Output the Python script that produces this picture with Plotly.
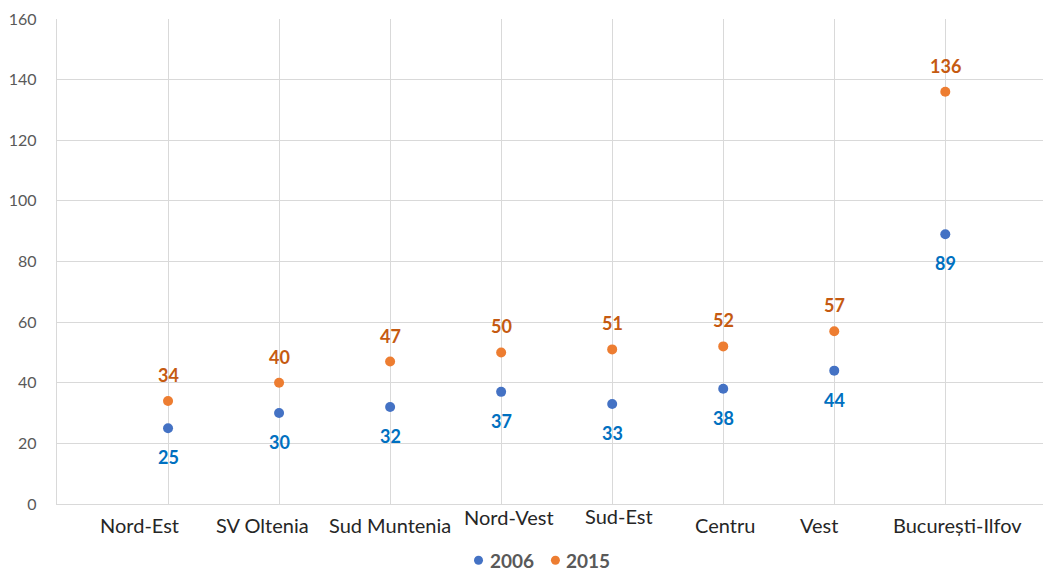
import plotly.graph_objects as go

# Regional values, 2006 vs 2015
regions = ["Nord-Est", "SV Oltenia", "Sud Muntenia", "Nord-Vest", "Sud-Est",
           "Centru", "Vest", "București-Ilfov"]
values_2006 = [25, 30, 32, 37, 33, 38, 44, 89]
values_2015 = [34, 40, 47, 50, 51, 52, 57, 136]
y_ticks = [0, 20, 40, 60, 80, 100, 120, 140, 160]
series_names = ["2006", "2015"]

# Placement of the region text boxes relative to each column (x in category units, y in px)
label_dx = [-0.26, -0.15, 0.0, 0.07, 0.06, 0.02, -0.14, 0.11]
label_dy = [0, 0, 0, 8.5, 9.5, 0, 0, 0]

C2006 = "#4472C4"
C2015 = "#ED7D31"
FONT = "Lato"

xs = list(range(1, len(regions) + 1))

fig = go.Figure()
fig.add_trace(go.Scatter(
    x=xs, y=values_2006, mode="markers", name=series_names[0],
    marker=dict(color=C2006, size=10), hoverinfo="skip", showlegend=False))
fig.add_trace(go.Scatter(
    x=xs, y=values_2015, mode="markers", name=series_names[1],
    marker=dict(color=C2015, size=10), hoverinfo="skip", showlegend=False))

annotations = []
for x, v in zip(xs, values_2006):
    annotations.append(dict(x=x, y=v, text=f"<b>{v}</b>", showarrow=False,
                            yshift=-29, font=dict(family=FONT, size=18, color="#0070C0")))
for x, v in zip(xs, values_2015):
    annotations.append(dict(x=x, y=v, text=f"<b>{v}</b>", showarrow=False,
                            yshift=26, font=dict(family=FONT, size=18, color="#C55A11")))
for x, name, dx, dy in zip(xs, regions, label_dx, label_dy):
    annotations.append(dict(x=x + dx, y=0, xref="x", yref="y", text=name,
                            showarrow=False, yanchor="middle", yshift=-21 + dy,
                            font=dict(family=FONT, size=20, color="#262626")))

# Legend drawn as dots plus bold labels under the plot
legend_y = -0.116
legend_items = [(0.4275, C2006, series_names[0]), (0.5055, C2015, series_names[1])]
shapes = []
for lx, col, name in legend_items:
    shapes.append(dict(type="circle", xref="paper", yref="paper",
                       xsizemode="pixel", ysizemode="pixel",
                       xanchor=lx, yanchor=legend_y, x0=-4.5, x1=4.5, y0=-4.5, y1=4.5,
                       fillcolor=col, line=dict(width=0)))
    annotations.append(dict(x=lx, y=legend_y, xref="paper", yref="paper",
                            text=f"<b>{name}</b>", showarrow=False, height=18,
                            xanchor="left", yanchor="middle", xshift=9,
                            font=dict(family=FONT, size=19, color="#595959")))

fig.update_layout(
    width=1043, height=570,
    margin=dict(l=57, r=0, t=19, b=66, autoexpand=False),
    paper_bgcolor="white", plot_bgcolor="white",
    showlegend=False,
    annotations=annotations,
    shapes=shapes,
    xaxis=dict(range=[0, 8.88], tick0=0, dtick=1, showticklabels=False,
               showgrid=True, gridcolor="#d9d9d9", gridwidth=1.3, zeroline=False,
               showline=True, linecolor="#d9d9d9", linewidth=1.3, ticks=""),
    yaxis=dict(range=[0, 160], tickvals=y_ticks, showgrid=True, gridcolor="#d9d9d9",
               gridwidth=1.3, zeroline=False, showline=True, linecolor="#d9d9d9",
               linewidth=1.3, ticks="", ticklabelstandoff=16,
               tickfont=dict(family=FONT, size=16, color="#595959")),
)

fig.write_html("out.html")
